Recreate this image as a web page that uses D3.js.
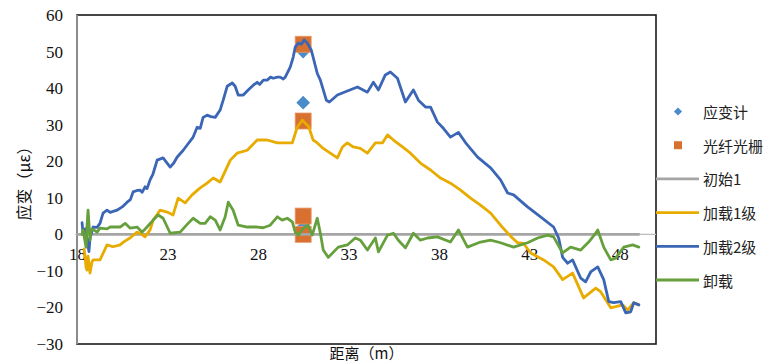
<!DOCTYPE html>
<html>
<head>
<meta charset="utf-8">
<script src="https://cdn.jsdelivr.net/npm/d3@7/dist/d3.min.js"></script>
<style>
  html, body { margin: 0; padding: 0; background: #fff; }
  svg { display: block; }
</style>
</head>
<body>
<svg id="chart" width="773" height="363"></svg>
<script>
// Axis ticks
const xTicks = [18, 23, 28, 33, 38, 43, 48];
const yTicks = [-30, -20, -10, 0, 10, 20, 30, 40, 50, 60];

// Point measurements at the gauge location: [distance m, strain με]
const gaugePoints = [[30.5, 50], [30.5, 36], [30.5, 2]];
const fbgPoints = [[30.5, 52], [30.5, 31], [30.5, 5], [30.5, 0]];

// Distributed strain profiles: [distance m, strain με]
const initial1 = [[18.0, 0], [49.05, 0]];

const load1 = [
  [18.39, -4], [18.44, -5.7], [18.50, -9], [18.55, -9.8], [18.61, -6], [18.72, -10.6],
  [18.83, -7.5], [18.89, -7], [19.27, -7], [19.66, -2.9], [19.99, -3.4], [20.38, -2.9],
  [20.60, -2], [20.93, -1], [21.32, 0.6], [21.49, 0.3], [21.76, -0.7], [22.04, 1.2],
  [22.21, 3.9], [22.59, 6.6], [22.98, 6.1], [23.31, 5.3], [23.59, 9.9], [23.98, 8.6],
  [24.36, 10.8], [24.81, 12.7], [25.19, 14], [25.53, 15.4], [25.91, 14.3], [26.47, 20.3],
  [26.85, 22.2], [27.41, 23], [27.96, 25.8], [28.20, 25.8], [28.51, 25.8], [29.07, 25],
  [29.62, 25], [29.90, 25], [30.17, 29.3], [30.45, 31.2], [30.62, 30.4], [30.80, 29.5],
  [31.05, 25.8], [31.28, 25], [31.61, 23.5], [32.00, 22.2], [32.39, 20.9], [32.67, 23.9],
  [32.94, 25], [33.27, 23.9], [33.66, 23.5], [34.05, 22.2], [34.49, 25], [34.88, 25],
  [35.16, 27.2], [35.49, 25.8], [35.99, 23.9], [36.43, 22.2], [36.98, 19.5], [37.54, 17.6],
  [38.09, 15.4], [38.64, 14], [39.20, 12.1], [39.75, 9.9], [40.30, 8], [40.86, 5.8],
  [41.41, 2.5], [41.96, -0.5], [42.35, -2.3], [42.68, -2.5], [43.07, -5.1], [43.79, -7],
  [44.34, -8.9], [44.84, -12.4], [45.39, -10.6], [46.00, -17.4], [46.67, -14.7], [46.94, -15.7],
  [47.50, -20.1], [47.77, -19.8], [48.16, -19.3], [48.44, -20.7], [48.77, -18.7], [49.05, -19.3]
];

const load2 = [
  [18.28, 3.2], [18.33, 0.5], [18.44, 1.5], [18.55, -1], [18.66, -4.7], [18.72, -1],
  [18.89, 2], [19.11, 1.9], [19.27, 3], [19.44, 5.8], [19.66, 6.6], [19.83, 6],
  [20.21, 6.6], [20.50, 7.5], [20.77, 8.8], [20.95, 9.5], [21.10, 11.6], [21.32, 12],
  [21.49, 12.1], [21.60, 11.5], [21.76, 13], [21.87, 12.5], [22.04, 14.9], [22.20, 16.5],
  [22.43, 20.3], [22.76, 20.9], [22.98, 19.5], [23.15, 18.4], [23.35, 19.5], [23.53, 21.1],
  [23.87, 23], [24.10, 24.5], [24.42, 26.6], [24.64, 29.3], [24.81, 29], [24.97, 32],
  [25.19, 32.6], [25.40, 32.2], [25.64, 32], [25.91, 34], [26.08, 36.7], [26.30, 40.5],
  [26.58, 41.4], [26.74, 40.5], [26.91, 38.1], [27.19, 38.1], [27.46, 39.5], [27.74, 40.8],
  [27.96, 41.6], [28.10, 41], [28.30, 42.2], [28.51, 42.2], [28.70, 43], [28.85, 42.7],
  [29.07, 43], [29.23, 43], [29.40, 42.5], [29.51, 43], [29.79, 45.8], [29.95, 48.5],
  [30.06, 51.2], [30.23, 52.3], [30.40, 52], [30.56, 53.2], [30.73, 52.3], [30.95, 50.4],
  [31.28, 44], [31.45, 42.2], [31.78, 36.7], [31.95, 36.2], [32.39, 38.1], [32.94, 39.2],
  [33.50, 40.3], [34.05, 38.9], [34.38, 41.6], [34.66, 39.5], [35.04, 43.6], [35.32, 44.4],
  [35.71, 42.7], [36.15, 36.2], [36.59, 39.5], [36.87, 36.7], [37.26, 34.8], [37.54, 34.8],
  [37.92, 30.7], [38.25, 29], [38.64, 26.6], [39.08, 27.9], [39.47, 25.1], [40.14, 21.1],
  [40.86, 18.2], [41.41, 14.9], [41.80, 11.3], [42.13, 10.8], [42.90, 7.5], [43.62, 4.8],
  [44.34, 2], [44.62, -1], [44.84, -6.3], [45.12, -7.9], [45.39, -7], [45.84, -12],
  [46.11, -13], [46.39, -10.3], [46.78, -8.9], [47.11, -12.4], [47.39, -18.4], [47.66, -18.7],
  [48.05, -18.4], [48.33, -21.5], [48.60, -21.2], [48.77, -18.7], [49.05, -19.3]
];

const unload = [
  [18.28, 0], [18.33, 1.2], [18.50, -3.5], [18.55, 2], [18.61, 6.6], [18.66, 3],
  [18.72, -1.6], [18.77, 1], [18.83, 1.5], [19.11, 0.6], [19.27, 1.7], [19.66, 1.5],
  [19.83, 2], [20.21, 2], [20.38, 2], [20.66, 3], [20.93, 1.7], [21.32, 2],
  [21.60, 0.6], [21.87, 2], [22.21, 3.9], [22.48, 5.3], [22.76, 4.4], [23.15, 0.3],
  [23.70, 0.6], [24.14, 3], [24.42, 4.4], [24.81, 3], [25.08, 3], [25.36, 4.8],
  [25.64, 3.9], [25.91, 1.2], [26.19, 4.8], [26.36, 8.8], [26.63, 6.6], [26.91, 2.5],
  [27.41, 2], [27.96, 2], [28.29, 1.8], [28.68, 2.5], [29.07, 4.8], [29.34, 3.9],
  [29.62, 4.4], [29.90, 3.4], [30.06, 0.6], [30.23, -0.2], [30.51, 1.7], [30.78, 2.5],
  [31.00, -0.2], [31.28, 4.4], [31.45, 0.3], [31.61, -4.3], [31.89, -6.3], [32.44, -3.5],
  [32.94, -2.9], [33.38, -1], [33.66, -1.6], [34.05, -4.3], [34.49, -1], [34.66, -4.8],
  [35.16, -0.2], [35.49, 0.3], [35.76, -1.6], [36.15, -3.7], [36.59, 0.3], [36.98, -1.6],
  [37.37, -1], [37.92, -0.7], [38.64, -2.1], [39.08, 1.2], [39.58, -3.5], [40.30, -2.1],
  [40.86, -1.6], [41.41, -2.3], [42.13, -3.5], [42.90, -2.3], [43.46, -1], [44.01, -0.2],
  [44.34, -0.7], [44.84, -5.1], [45.28, -3.5], [45.84, -4.3], [46.28, -2.1], [46.67, 0.3],
  [46.78, 1.2], [47.11, -3.5], [47.50, -7], [47.77, -6.5], [48.22, -3.5], [48.71, -2.9],
  [49.05, -3.5]
];

const legendLabels = ["应变计", "光纤光栅", "初始1", "加载1级", "加载2级", "卸载"];

const colors = {
  gauge: "#4a8bc9",
  fbg: "#d8702f",
  initial: "#a5a5a5",
  load1: "#e8ab00",
  load2: "#3b66b6",
  unload: "#66a03c"
};

const svg = d3.select("#chart");
const plot = { left: 77, right: 656, top: 15, bottom: 344 };

const x = d3.scaleLinear().domain([18, 50]).range([plot.left, plot.right]);
const y = d3.scaleLinear().domain([-30, 60]).range([plot.bottom, plot.top]);

const serif = "'Liberation Serif', 'Times New Roman', serif";
const cjk = "'Noto Sans CJK SC', 'Noto Sans', sans-serif";

// Plot frame
svg.append("rect")
  .attr("x", plot.left).attr("y", plot.top)
  .attr("width", plot.right - plot.left).attr("height", plot.bottom - plot.top)
  .attr("fill", "none").attr("stroke", "#1a1a1a").attr("stroke-width", 1.6);

// Vertical axis line
svg.append("line")
  .attr("x1", plot.left).attr("x2", plot.left)
  .attr("y1", plot.top).attr("y2", plot.bottom)
  .attr("stroke", "#8c8c8c").attr("stroke-width", 2);

// Horizontal axis line at zero
svg.append("line")
  .attr("x1", plot.left).attr("x2", plot.right)
  .attr("y1", y(0)).attr("y2", y(0))
  .attr("stroke", "#bdbdbd").attr("stroke-width", 1.2);

// Y axis labels
const yAxis = svg.append("g")
  .attr("transform", `translate(${plot.left},0)`)
  .call(d3.axisLeft(y).tickValues(yTicks).tickSize(0).tickPadding(14).tickFormat(d3.format("d")));
yAxis.select(".domain").remove();
yAxis.selectAll("text").attr("font-family", serif).attr("font-size", 17).attr("fill", "#111");

// X axis labels sit next to the zero line
const xAxis = svg.append("g")
  .attr("transform", `translate(0,${y(0)})`)
  .call(d3.axisBottom(x).tickValues(xTicks).tickSize(0).tickPadding(14).tickFormat(d3.format("d")));
xAxis.select(".domain").remove();
xAxis.selectAll("text").attr("font-family", serif).attr("font-size", 17).attr("fill", "#111");

// Axis titles
svg.append("text")
  .attr("transform", `translate(23,${(plot.top + plot.bottom) / 2}) rotate(-90)`)
  .attr("text-anchor", "middle").attr("dominant-baseline", "central")
  .attr("font-family", cjk).attr("font-size", 16).attr("fill", "#111")
  .text("应变（με）");

svg.append("text")
  .attr("x", (plot.left + plot.right) / 2).attr("y", 352)
  .attr("text-anchor", "middle").attr("dominant-baseline", "central")
  .attr("font-family", cjk).attr("font-size", 15).attr("fill", "#111")
  .text("距离（m）");

const g = svg.append("g");

// Point markers
const diamond = d3.symbol().type(d3.symbolDiamond2);
g.selectAll(".gauge").data(gaugePoints).join("path")
  .attr("class", "gauge")
  .attr("transform", d => `translate(${x(d[0])},${y(d[1])})`)
  .attr("d", diamond.size(120)())
  .attr("fill", colors.gauge);

g.selectAll(".fbg").data(fbgPoints).join("rect")
  .attr("class", "fbg")
  .attr("x", d => x(d[0]) - 8).attr("y", d => y(d[1]) - 8)
  .attr("width", 16).attr("height", 16)
  .attr("fill", colors.fbg).attr("stroke", "#e89a6a").attr("stroke-width", 0.8);

// Profile lines
const line = d3.line().x(d => x(d[0])).y(d => y(d[1]));
const series = [
  { data: initial1, color: colors.initial },
  { data: load1, color: colors.load1 },
  { data: load2, color: colors.load2 },
  { data: unload, color: colors.unload }
];
g.selectAll(".series").data(series).join("path")
  .attr("class", "series")
  .attr("d", d => line(d.data))
  .attr("fill", "none")
  .attr("stroke", d => d.color)
  .attr("stroke-width", 2.8)
  .attr("stroke-linejoin", "round")
  .attr("stroke-linecap", "round");

// Legend
const legend = svg.append("g");
const legendY0 = 111.5, legendStep = 33.7;
const legendItems = [
  { type: "diamond", color: colors.gauge },
  { type: "square", color: colors.fbg },
  { type: "line", color: colors.initial },
  { type: "line", color: colors.load1 },
  { type: "line", color: colors.load2 },
  { type: "line", color: colors.unload }
];
legendItems.forEach((item, i) => {
  const cy = legendY0 + i * legendStep;
  if (item.type === "diamond") {
    legend.append("path")
      .attr("transform", `translate(678,${cy})`)
      .attr("d", diamond.size(42)())
      .attr("fill", item.color);
  } else if (item.type === "square") {
    legend.append("rect")
      .attr("x", 674).attr("y", cy - 4).attr("width", 8).attr("height", 8)
      .attr("fill", item.color);
  } else {
    legend.append("line")
      .attr("x1", 656).attr("x2", 699).attr("y1", cy).attr("y2", cy)
      .attr("stroke", item.color).attr("stroke-width", 2.8);
  }
  legend.append("text")
    .attr("x", 703).attr("y", cy)
    .attr("dominant-baseline", "central")
    .attr("font-family", cjk).attr("font-size", 15).attr("fill", "#222")
    .text(legendLabels[i]);
});
</script>
</body>
</html>
